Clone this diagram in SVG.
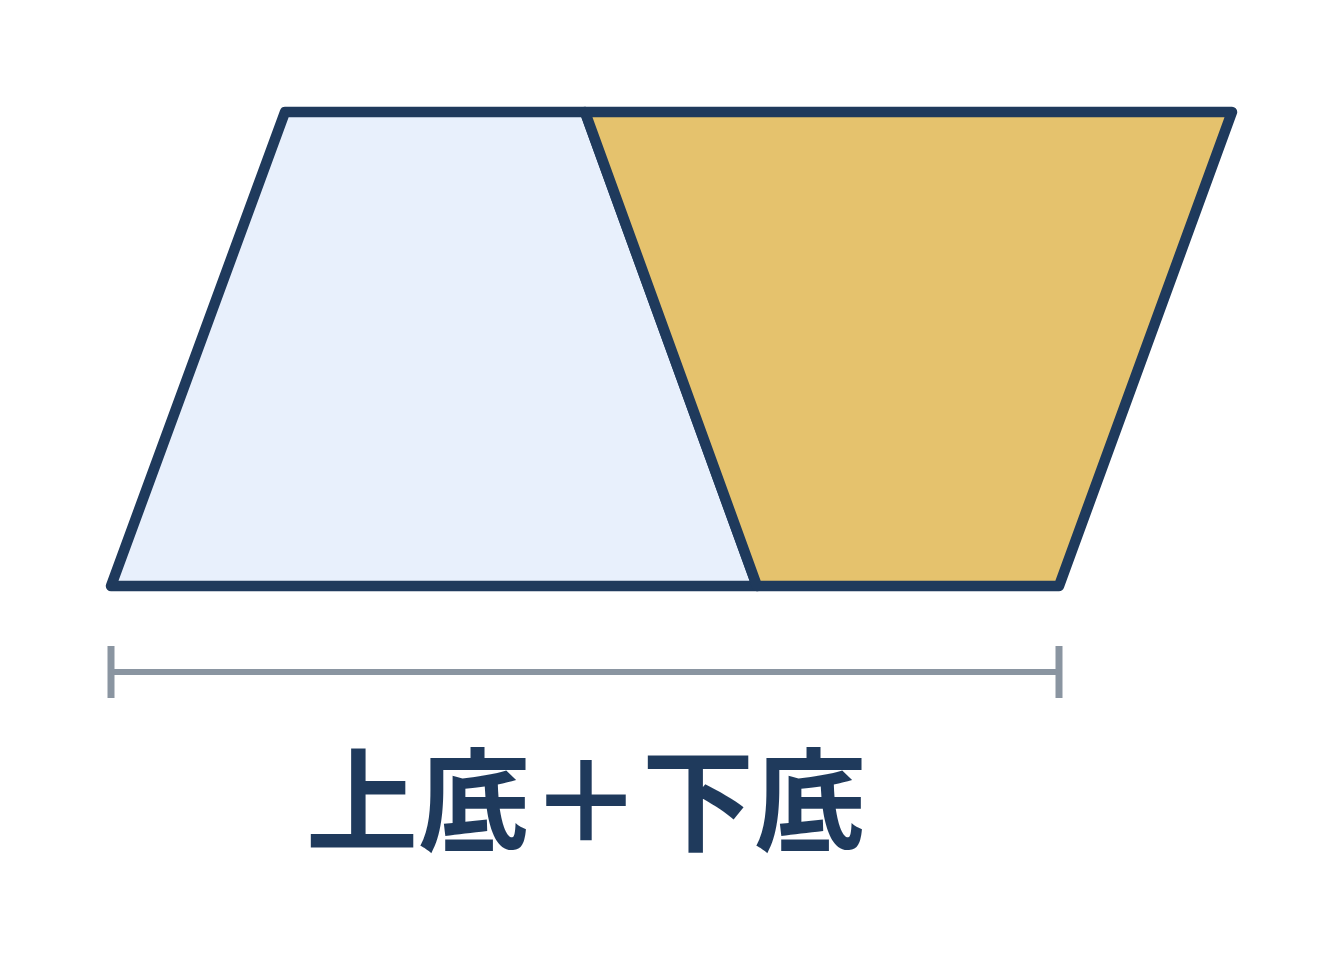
<svg xmlns="http://www.w3.org/2000/svg" width="1344" height="964" viewBox="0 0 1344 964">
<style>
.shape{stroke:#1f3a5c;stroke-width:10.5;stroke-linejoin:round;stroke-linecap:round}
.dim{stroke:#8a95a1;stroke-width:6;fill:none}
.tick{stroke:#8a95a1;stroke-width:7;fill:none}
.label{font-family:"Noto Sans CJK JP","Noto Sans CJK TC",sans-serif;font-weight:700;font-size:112px;fill:#1f3a5c}
</style>
<rect width="1344" height="964" fill="#ffffff"/>
<g id="left-trapezoid">
<polygon class="shape" points="285,112 585,112 757,586 111,586" fill="#e8f0fc"/>
</g>
<g id="right-trapezoid">
<polygon class="shape" points="585,112 1232,112 1059,586 757,586" fill="#e5c26d"/>
</g>
<g id="connectors">
<line class="dim" x1="111" y1="672" x2="1059" y2="672"/>
<line class="tick" x1="111" y1="646" x2="111" y2="698"/>
<line class="tick" x1="1059" y1="646" x2="1059" y2="698"/>
</g>
<g id="label">
<text class="label" x="586" y="843" text-anchor="middle">上底＋下底</text>
</g>
</svg>
